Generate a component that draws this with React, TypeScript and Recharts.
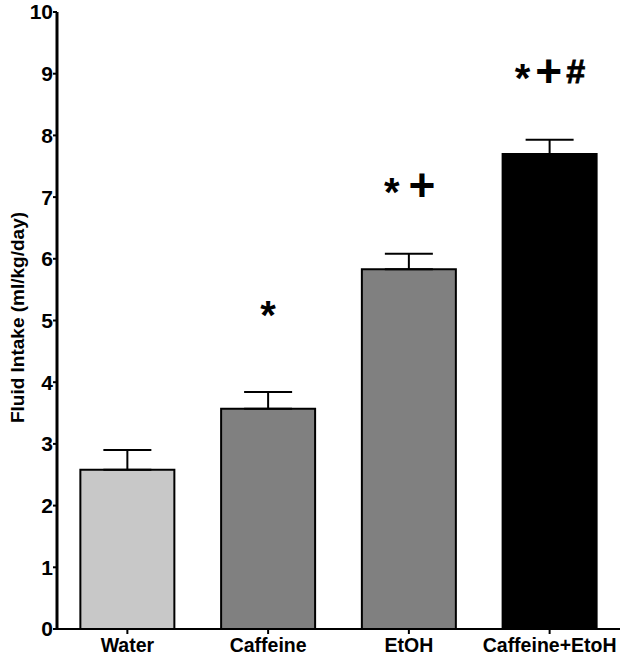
import { ComposedChart, Bar, Cell, ErrorBar, Scatter, XAxis, YAxis } from 'recharts';

const groups = ['Water', 'Caffeine', 'EtOH', 'Caffeine+EtoH'];
const intake = [2.58, 3.57, 5.83, 7.7];
const sem = [0.32, 0.27, 0.25, 0.23];
const fills = ['#c8c8c8', '#808080', '#808080', '#000000'];
const marks = ['', '*', '*+', '*+#'];
const markLevel = [null, 5.2, 7.2, 9.05];
const yTicks = [0, 1, 2, 3, 4, 5, 6, 7, 8, 9, 10];

const data = groups.map((g, i) => ({
  name: g,
  value: intake[i],
  err: [0, sem[i]],
  mark: marks[i],
  markY: markLevel[i],
}));

const FONT = '"Liberation Sans", Arial, sans-serif';

// glyph look: size, drawn width, baseline drop so every glyph centres on cy
const GLYPH: Record<string, { size: number; w: number; drop: number }> = {
  '*': { size: 40, w: 17, drop: 21 },
  '+': { size: 46, w: 25, drop: 16 },
  '#': { size: 34, w: 19, drop: 12 },
};

function MarkShape(props: any) {
  const { cx, cy, payload } = props;
  if (!payload || !payload.mark || cy == null || isNaN(cy)) return null;
  const chars: string[] = payload.mark.split('');
  const gap = chars.length === 2 ? 9 : 5;
  const total = chars.reduce((s, c) => s + GLYPH[c].w, 0) + gap * (chars.length - 1);
  let left = cx - total / 2;
  return (
    <g>
      {chars.map((c, i) => {
        const g = GLYPH[c];
        const x = left + g.w / 2;
        left += g.w + gap;
        return (
          <text
            key={i}
            x={x}
            y={cy + g.drop}
            textAnchor="middle"
            fontFamily={FONT}
            fontWeight="bold"
            fontSize={g.size}
            fill="#000"
            stroke={c === '#' ? '#000' : 'none'}
            strokeWidth={c === '#' ? 0.8 : 0}
          >
            {c}
          </text>
        );
      })}
    </g>
  );
}

function YLabel(props: any) {
  const vb = props.viewBox || {};
  const x = (vb.x ?? 0) + 17;
  const y = (vb.y ?? 0) + (vb.height ?? 0) / 2 - 3;
  return (
    <text
      x={x}
      y={y}
      transform={`rotate(-90 ${x} ${y})`}
      textAnchor="middle"
      dominantBaseline="central"
      fontFamily={FONT}
      fontWeight="bold"
      fontSize={19}
      fill="#000"
    >
      Fluid Intake (ml/kg/day)
    </text>
  );
}

export default function App() {
  return (
    <div style={{ position: 'absolute', left: 0, top: 0, background: '#fff' }}>
      <ComposedChart
        width={629}
        height={661}
        data={data}
        margin={{ top: 12, right: 9, left: 0, bottom: 0 }}
        barCategoryGap="16.6%"
      >
        <XAxis
          dataKey="name"
          height={32}
          axisLine={{ stroke: '#000', strokeWidth: 2 }}
          tickLine={{ stroke: '#000', strokeWidth: 2 }}
          tickSize={5}
          tickMargin={4}
          tick={{ fill: '#000', fontFamily: FONT, fontWeight: 'bold', fontSize: 19.5 }}
        />
        <YAxis
          width={57}
          domain={[0, 10]}
          ticks={yTicks}
          interval={0}
          allowDataOverflow
          axisLine={{ stroke: '#000', strokeWidth: 3 }}
          tickLine={{ stroke: '#000', strokeWidth: 2 }}
          tickSize={4}
          tickMargin={0}
          tick={{ fill: '#000', fontFamily: FONT, fontWeight: 'bold', fontSize: 21 }}
          label={<YLabel />}
        />
        <Bar dataKey="value" stroke="#000" strokeWidth={2} isAnimationActive={false}>
          {data.map((d, i) => (
            <Cell key={d.name} fill={fills[i]} />
          ))}
          <ErrorBar dataKey="err" direction="y" width={24} stroke="#000" strokeWidth={2} />
        </Bar>
        <Scatter dataKey="markY" shape={<MarkShape />} isAnimationActive={false} />
      </ComposedChart>
    </div>
  );
}
